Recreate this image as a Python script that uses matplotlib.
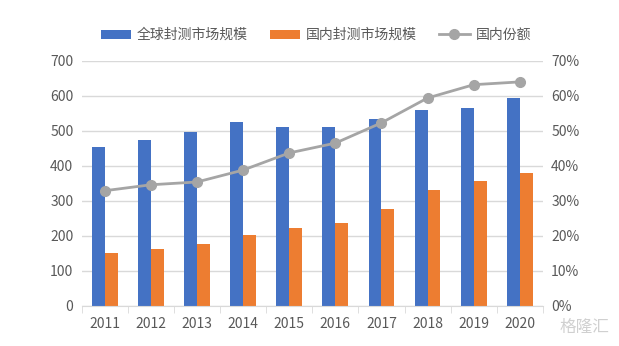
import numpy as np
import matplotlib.pyplot as plt

plt.rcParams['font.family'] = ['Noto Sans CJK SC', 'DejaVu Sans']

# 数据
years = ['2011', '2012', '2013', '2014', '2015', '2016', '2017', '2018', '2019', '2020']
global_market = [455, 473, 498, 525, 510, 510, 533, 560, 565, 595]
china_market = [150, 163, 176, 203, 222, 236, 278, 332, 356, 380]
china_share = [32.9, 34.6, 35.4, 38.8, 43.7, 46.5, 52.3, 59.4, 63.2, 64.0]

blue = '#4472C4'
orange = '#ED7D31'
grey = '#A5A5A5'
txt = '#595959'

fig = plt.figure(figsize=(6.19, 3.46), dpi=100)
ax = fig.add_axes([0.132, 0.116, 0.745, 0.708])
ax2 = ax.twinx()

x = np.arange(len(years))
w = 0.28
ax.bar(x - w / 2, global_market, w, color=blue, label='全球封测市场规模', zorder=2)
ax.bar(x + w / 2, china_market, w, color=orange, label='国内封测市场规模', zorder=2)
ax2.plot(x, china_share, color=grey, lw=2, marker='o', ms=7, label='国内份额')

ax.set_xlim(-0.5, len(years) - 0.5)
ax.set_ylim(0, 700)
ax.set_yticks(range(0, 701, 100))
ax2.set_ylim(0, 70)
ax2.set_yticks(range(0, 71, 10))
ax2.set_yticklabels([f'{v}%' for v in range(0, 71, 10)])

ax.set_xticks(x)
ax.set_xticklabels(years)
ax.set_xticks(np.arange(-0.5, len(years), 1), minor=True)
ax.tick_params(axis='x', which='major', length=0, pad=8, colors=txt, labelsize=10)
ax.tick_params(axis='x', which='minor', length=5, color='#D9D9D9')
ax.tick_params(axis='y', length=0, pad=6, colors=txt, labelsize=10)
ax2.tick_params(axis='y', length=0, pad=6, colors=txt, labelsize=10)

ax.grid(axis='y', color='#D9D9D9', lw=1, zorder=0)
ax.set_axisbelow(True)
for a in (ax, ax2):
    for s in a.spines.values():
        s.set_visible(False)
ax.spines['bottom'].set_visible(True)
ax.spines['bottom'].set_color('#D9D9D9')

h1, l1 = ax.get_legend_handles_labels()
h2, l2 = ax2.get_legend_handles_labels()
fig.legend(h1 + h2, l1 + l2, loc='upper center', bbox_to_anchor=(0.51, 0.955), ncol=3,
           frameon=False, fontsize=10, labelcolor=txt, handlelength=2.2,
           handleheight=0.6, columnspacing=1.6, handletextpad=0.4)

# 水印
fig.text(0.985, 0.03, '格隆汇', ha='right', va='bottom', fontsize=12, color='#D0D0D0')

fig.savefig('out.png', dpi=100)
